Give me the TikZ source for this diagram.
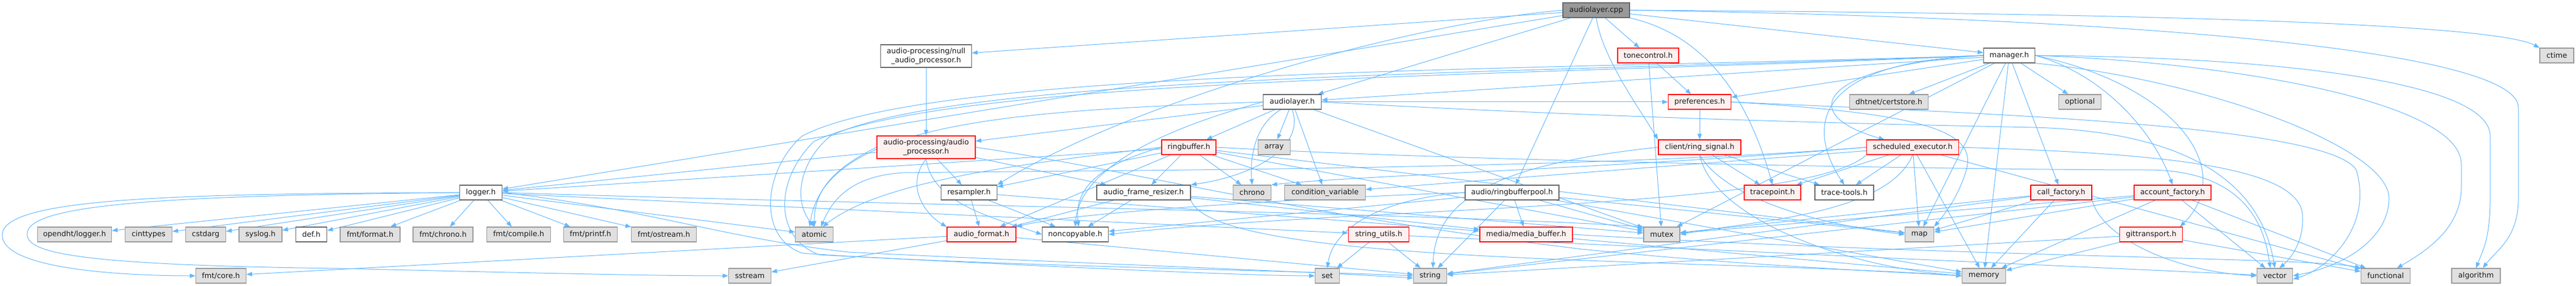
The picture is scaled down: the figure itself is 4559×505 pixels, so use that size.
\documentclass[tikz,border=0pt]{standalone}
\usepackage{fontspec}
\setmainfont{DejaVu Sans}
\usetikzlibrary{arrows.meta,backgrounds}
\definecolor{edgec}{HTML}{63B8FF}
\definecolor{rootfill}{HTML}{999999}
\definecolor{rootdraw}{HTML}{666666}
\definecolor{redfill}{HTML}{FFF0F0}
\definecolor{grayfill}{HTML}{E0E0E0}
\definecolor{graydraw}{HTML}{999999}
\definecolor{txt}{HTML}{1A1A1A}
\tikzset{
  box/.style={draw, line width=1.3pt, minimum height=26pt, inner xsep=3pt, inner ysep=1pt,
    font=\fontsize{13}{16}\selectfont, text=txt},
  nroot/.style={box, fill=rootfill, draw=rootdraw},
  nwhite/.style={box, fill=white, draw=rootdraw},
  nred/.style={box, fill=redfill, draw=red},
  ngray/.style={box, fill=grayfill, draw=graydraw},
  dep/.style={draw=edgec, line width=1pt, -{Triangle[length=10pt,width=7.5pt]}},
}
\begin{document}
\begin{tikzpicture}[x=1pt,y=-1pt]
\useasboundingbox (0,0) rectangle (4559,505);
% row 0
\node[nroot, minimum width=118pt] (cpp) at (2825,18) {audiolayer.cpp};
% row 1
\node[nwhite, minimum width=161pt, minimum height=40pt, align=center] (nap) at (1639,99) {audio-processing/null\\\_audio\_processor.h};
\node[nred, minimum width=108pt] (tone) at (2917,98) {tonecontrol.h};
\node[nwhite, minimum width=91pt] (mgr) at (3556,98) {manager.h};
\node[ngray, minimum width=60pt] (ctime) at (4525,98) {ctime};
% row 2
\node[nwhite, minimum width=103pt] (al) at (2287,180) {audiolayer.h};
\node[nred, minimum width=111pt] (pref) at (3008,180) {preferences.h};
\node[ngray, minimum width=139pt] (cert) at (3343,180) {dhtnet/certstore.h};
\node[ngray, minimum width=75pt] (opt) at (3681,180) {optional};
% row 3
\node[nred, minimum width=174pt, minimum height=40pt, align=center] (ap) at (1639,260) {audio-processing/audio\\\_processor.h};
\node[nred, minimum width=96pt] (rb) at (2104,260) {ringbuffer.h};
\node[ngray, minimum width=57pt] (arr) at (2255,260) {array};
\node[nred, minimum width=146pt] (rsig) at (3008,260) {client/ring\_signal.h};
\node[nred, minimum width=163pt] (sched) at (3385,260) {scheduled\_executor.h};
% row 4
\node[nwhite, minimum width=75pt] (log) at (851,340) {logger.h};
\node[nwhite, minimum width=99pt] (res) at (1715,340) {resampler.h};
\node[nwhite, minimum width=166pt] (afr) at (2024,340) {audio\_frame\_resizer.h};
\node[ngray, minimum width=67pt] (chrono) at (2216,340) {chrono};
\node[ngray, minimum width=143pt] (cv) at (2345,340) {condition\_variable};
\node[nwhite, minimum width=166pt] (rbp) at (2676,340) {audio/ringbufferpool.h};
\node[nred, minimum width=100pt] (tp) at (3137,340) {tracepoint.h};
\node[nwhite, minimum width=104pt] (tt) at (3264,340) {trace-tools.h};
\node[nred, minimum width=108pt] (cf) at (3648,340) {call\_factory.h};
\node[nred, minimum width=136pt] (acf) at (3845,340) {account\_factory.h};
% row 5
\node[ngray, minimum width=131pt] (odl) at (132,414) {opendht/logger.h};
\node[ngray, minimum width=83pt] (cint) at (263,414) {cinttypes};
\node[ngray, minimum width=71pt] (cstd) at (364,414) {cstdarg};
\node[ngray, minimum width=76pt] (sysl) at (461,414) {syslog.h};
\node[nwhite, minimum width=55pt] (def) at (551,414) {def.h};
\node[ngray, minimum width=106pt] (ffmt) at (655,414) {fmt/format.h};
\node[ngray, minimum width=106pt] (fchr) at (784,414) {fmt/chrono.h};
\node[ngray, minimum width=113pt] (fcomp) at (918,414) {fmt/compile.h};
\node[ngray, minimum width=95pt] (fpr) at (1045,414) {fmt/printf.h};
\node[ngray, minimum width=115pt] (fost) at (1175,414) {fmt/ostream.h};
\node[ngray, minimum width=67pt] (atomic) at (1441,414) {atomic};
\node[nred, minimum width=122pt] (afmt) at (1737,414) {audio\_format.h};
\node[nwhite, minimum width=117pt] (nc) at (1903,414) {noncopyable.h};
\node[nred, minimum width=107pt] (su) at (2440,414) {string\_utils.h};
\node[nred, minimum width=164pt] (mb) at (2701,414) {media/media\_buffer.h};
\node[ngray, minimum width=64pt] (mutex) at (2941,414) {mutex};
\node[ngray, minimum width=51pt] (map) at (3397,414) {map};
\node[nred, minimum width=111pt] (git) at (3807,414) {gittransport.h};
% row 6
\node[ngray, minimum width=89pt] (fcore) at (391,487) {fmt/core.h};
\node[ngray, minimum width=75pt] (sstream) at (1327,487) {sstream};
\node[ngray, minimum width=43pt] (set) at (2349,487) {set};
\node[ngray, minimum width=59pt] (string) at (2531,487) {string};
\node[ngray, minimum width=77pt] (memory) at (3511,487) {memory};
\node[ngray, minimum width=63pt] (vector) at (4026,487) {vector};
\node[ngray, minimum width=87pt] (functional) at (4222,487) {functional};
\node[ngray, minimum width=86pt] (algorithm) at (4382,487) {algorithm};

\begin{pgfonlayer}{background}
\fill[white] (0,0) rectangle (4559,505);
% ---- audiolayer.cpp
\foreach \t in {nap,log,al,rbp,tone,mgr} \draw[dep] (cpp) -- (\t);
\draw[dep] (cpp.west) .. controls (2500,40) and (2000,180) .. (res.north east);
\draw[dep] (cpp.south) .. controls (2835,100) and (2900,190) .. (rsig.north west);
\draw[dep] (cpp.south east) .. controls (3010,60) and (3090,160) .. (tp.north);
\draw[dep] (cpp.east) .. controls (3900,24) and (4420,45) .. (ctime.north west);
\draw[dep] (cpp.east) .. controls (3800,32) and (4457,90) .. (4457,190) -- (4457,350) .. controls (4457,420) and (4420,440) .. ([xshift=12pt]algorithm.north);
\draw[dep] (nap) -- (ap);
% ---- tonecontrol
\foreach \t in {pref,mutex} \draw[dep] (tone) -- (\t);
% ---- manager
\foreach \t in {al,pref,cert,opt,cf,map,memory,mutex} \draw[dep] (mgr) -- (\t);
\draw[dep] (mgr.west) .. controls (3230,115) and (3170,200) .. ([xshift=-50pt]sched.north);
\draw[dep] (mgr.west) .. controls (3200,110) and (3200,230) .. (tt.north);
\draw[dep] (mgr.east) .. controls (3720,130) and (3810,230) .. (acf.north);
\draw[dep] (mgr.east) .. controls (3850,150) and (3960,300) .. ([xshift=-5pt]git.north east);
\draw[dep] (mgr.east) .. controls (4000,100) and (4407,140) .. (4407,240) -- (4407,350) .. controls (4407,420) and (4395,440) .. (algorithm.north);
\draw[dep] (mgr.east) .. controls (3950,110) and (4356,180) .. (4356,290) -- (4356,330) .. controls (4356,400) and (4300,440) .. ([xshift=20pt]functional.north);
\draw[dep] (mgr.south east) .. controls (3900,140) and (4228,260) .. (4228,350) .. controls (4228,420) and (4150,470) .. (vector.east);
\draw[dep] (mgr.west) .. controls (2700,125) and (1650,120) .. (1420,240) .. controls (1350,300) and (1340,420) .. (1420,447) .. controls (1700,468) and (2300,478) .. (string.west);
\draw[dep] (mgr.west) .. controls (2700,130) and (1700,130) .. (1470,240) .. controls (1420,280) and (1400,350) .. (atomic.north);
\draw[dep] (mgr.west) .. controls (2700,135) and (1680,135) .. (1440,250) .. controls (1370,320) and (1370,420) .. (1450,450) .. controls (1800,468) and (2200,487) .. (set.west);
% ---- audiolayer.h
\foreach \t in {ap,rb,arr,cv,mutex,pref} \draw[dep] (al) -- (\t);
\draw[dep] (al.west) .. controls (2050,230) and (1910,300) .. (nc.north);
\draw[dep] (al.south) .. controls (2310,260) and (2220,310) .. (afr.north east);
\draw[dep] ([xshift=-20pt]al.south) .. controls (2220,220) and (2212,280) .. (chrono.north);
\draw[dep] (al.west) .. controls (1800,195) and (1460,215) .. ([xshift=-8pt]atomic.north);
\draw[dep] (al.east) .. controls (2700,200) and (3100,215) .. (3600,225) .. controls (3950,235) and (4010,380) .. (vector.north);
% ---- preferences
\draw[dep] (pref) -- (rsig);
\draw[dep] (pref.east) .. controls (3400,200) and (3500,230) .. (3480,300) .. controls (3465,350) and (3440,380) .. (map.north east);
\draw[dep] (pref.east) .. controls (3500,200) and (4121,220) .. (4170,300) .. controls (4200,400) and (4120,475) .. ([yshift=-6pt]vector.east);
% ---- audio_processor
\foreach \t in {log,res,afr} \draw[dep] (ap) -- (\t);
\draw[dep] (ap.west) .. controls (1470,300) and (1441,340) .. (atomic.north);
\draw[dep] (ap.south) .. controls (1600,330) and (1640,380) .. (afmt.north west);
\draw[dep] (ap.south) .. controls (1650,360) and (1760,385) .. (nc.west);
\draw[dep] (ap.east) .. controls (2000,300) and (2300,380) .. (2800,440) .. controls (3100,470) and (3350,480) .. (memory.west);
% ---- ringbuffer
\foreach \t in {log,res,afmt,afr,chrono,cv,map,mutex} \draw[dep] (rb) -- (\t);
\draw[dep] (rb.west) .. controls (1950,290) and (1900,330) .. ([xshift=6pt]nc.north);
\draw[dep] (rb.west) .. controls (1800,290) and (1560,320) .. ([xshift=15pt]atomic.north);
\draw[dep] (rb.east) .. controls (2600,285) and (3500,300) .. (3800,300) .. controls (3990,300) and (4010,420) .. ([xshift=-8pt]vector.north);
% ---- ring_signal
\foreach \t in {tp,tt} \draw[dep] (rsig) -- (\t);
\draw[dep] (rsig.west) .. controls (2650,290) and (2540,350) .. ([xshift=5pt]string.north);
\draw[dep] (rsig.south) .. controls (3030,380) and (3250,470) .. (memory.west);
\draw[dep] (rsig.south) .. controls (3060,360) and (3250,400) .. (map.west);
% ---- scheduled_executor
\foreach \t in {tp,tt,map,memory,functional,cv} \draw[dep] (sched) -- (\t);
\draw[dep] (sched.south) .. controls (3340,380) and (3100,390) .. (mutex.east);
\draw[dep] (sched.west) .. controls (2900,295) and (2400,310) .. (chrono.north east);
\draw[dep] (sched.south west) .. controls (3200,370) and (2400,365) .. (nc.east);
\draw[dep] (sched.west) .. controls (2800,300) and (2000,300) .. (1600,305) .. controls (1500,310) and (1470,360) .. ([xshift=12pt]atomic.north);
\draw[dep] (sched.east) .. controls (3800,270) and (4070,290) .. (4075,380) .. controls (4078,430) and (4050,460) .. ([xshift=8pt]vector.north);
% ---- logger
\foreach \t in {odl,cint,cstd,sysl,def,ffmt,fchr,fcomp,fpr,fost,atomic,su} \draw[dep] (log) -- (\t);
\draw[dep] (log.east) .. controls (1500,360) and (2500,375) .. (mutex.north west);
\draw[dep] (log.east) .. controls (1150,370) and (1280,420) .. (1500,445) .. controls (1900,465) and (2300,478) .. ([yshift=-4pt]string.west);
\draw[dep] (log.west) .. controls (300,342) and (4,350) .. (4,415) .. controls (4,480) and (250,487) .. (fcore.west);
\draw[dep] (log.west) .. controls (300,345) and (48,360) .. (48,413) .. controls (48,445) and (120,468) .. (600,474) .. controls (900,481) and (1150,487) .. (sstream.west);
% ---- resampler / frame resizer / format
\foreach \t in {afmt,nc,mb} \draw[dep] (res) -- (\t);
\foreach \t in {afmt,nc,mb,mutex} \draw[dep] (afr) -- (\t);
\draw[dep] (afr.south east) .. controls (2150,470) and (3000,455) .. (memory.west);
\foreach \t in {fcore,sstream,string} \draw[dep] (afmt) -- (\t);
% ---- ringbufferpool
\foreach \t in {nc,mb,string,mutex,map,memory} \draw[dep] (rbp) -- (\t);
\draw[dep] (rbp.west) .. controls (2300,350) and (1900,375) .. (afmt.north east);
\draw[dep] (rbp.west) .. controls (2450,350) and (2360,400) .. (set.north);
% ---- factories etc.
\foreach \t in {mutex,map,memory,string} \draw[dep] (cf) -- (\t);
\draw[dep] (cf.south east) .. controls (3720,420) and (3850,480) .. (vector.west);
\foreach \t in {map,mutex,memory,vector,functional,string} \draw[dep] (acf) -- (\t);
\foreach \t in {set,string,vector} \draw[dep] (su) -- (\t);
\draw[dep] (mb) -- (memory);
\draw[dep] (mb.east) .. controls (3500,455) and (4100,455) .. (functional.north west);
\foreach \t in {memory,string,functional} \draw[dep] (git) -- (\t);
\end{pgfonlayer}
\end{tikzpicture}
\end{document}
